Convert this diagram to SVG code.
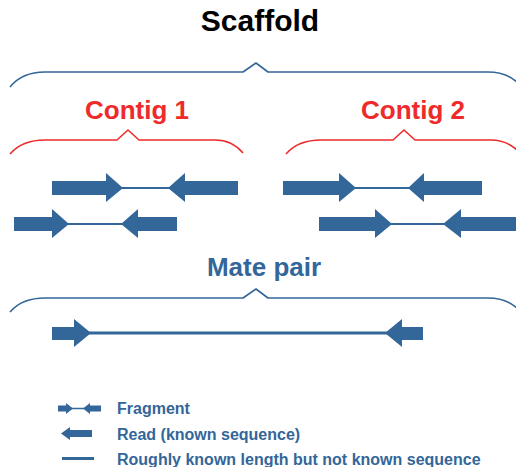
<svg xmlns="http://www.w3.org/2000/svg" width="516" height="467" viewBox="0 0 516 467">
<style>
.t{font-family:"Liberation Sans",Arial,sans-serif;font-weight:bold}
.brace{fill:none;stroke-width:1.6;stroke-linejoin:round}
.blue{stroke:#336699}
.red{stroke:#ee2a2a}
.rd{fill:#336699}
.ln{stroke:#336699;fill:none}
</style>
<rect width="516" height="467" fill="#fff"/>
<g id="scaffold">
<text class="t" x="260" y="31" font-size="30" text-anchor="middle" fill="#000">Scaffold</text>
<path class="brace blue" d="M10,87 Q22,72 45,72 L243,72 L256,63 L268,72 L488,72 Q508,72 520,85"/>
</g>
<g id="contig1">
<text class="t" x="137" y="119" font-size="26" text-anchor="middle" fill="#ee2a2a">Contig 1</text>
<path class="brace red" d="M10,154 Q22,140 45,140 L117,140 L128,130 L139,140 L215,140 Q232,140 243,153"/>
</g>
<g id="contig2">
<text class="t" x="413" y="119" font-size="26" text-anchor="middle" fill="#ee2a2a">Contig 2</text>
<path class="brace red" d="M286,154 Q298,140 321,140 L393,140 L404,130 L415,140 L491,140 Q508,140 520,153"/>
</g>
<g id="fragments">
<g id="frag1">
<line class="ln" x1="120" y1="188" x2="170" y2="188" stroke-width="2"/>
<polygon class="rd" points="52,181 106,181 106,173 123,188 106,202 106,195 52,195"/>
<polygon class="rd" points="238,181 185,181 185,173 168,188 185,202 185,195 238,195"/>
</g>
<g id="frag2">
<line class="ln" x1="353" y1="188" x2="410" y2="188" stroke-width="2"/>
<polygon class="rd" points="283,181 339,181 339,173 356,188 339,202 339,195 283,195"/>
<polygon class="rd" points="482,181 424,181 424,173 408,188 424,202 424,195 482,195"/>
</g>
<g id="frag3">
<line class="ln" x1="66" y1="224" x2="123" y2="224" stroke-width="2"/>
<polygon class="rd" points="14,217 52,217 52,209 69,224 52,238 52,231 14,231"/>
<polygon class="rd" points="177,217 138,217 138,209 121,224 138,238 138,231 177,231"/>
</g>
<g id="frag4">
<line class="ln" x1="389" y1="224" x2="445" y2="224" stroke-width="2"/>
<polygon class="rd" points="319,217 375,217 375,209 392,224 375,238 375,231 319,231"/>
<polygon class="rd" points="516,217 461,217 461,209 443,224 461,238 461,231 516,231"/>
</g>
</g>
<g id="matepair">
<text class="t" x="264" y="276" font-size="26" text-anchor="middle" fill="#336699">Mate pair</text>
<path class="brace blue" d="M10,312 Q22,298 45,298 L243,298 L256,289 L268,298 L488,298 Q508,298 520,311"/>
<line class="ln" x1="88" y1="333" x2="388" y2="333" stroke-width="3"/>
<polygon class="rd" points="52,327 74,327 74,319 91,333 74,347 74,340 52,340"/>
<polygon class="rd" points="423,327 402,327 402,319 385,333 402,347 402,340 423,340"/>
</g>
<g id="legend">
<g id="leg-fragment">
<line class="ln" x1="71" y1="408.5" x2="85" y2="408.5" stroke-width="1.5"/>
<polygon class="rd" points="58,405.5 66,405.5 66,403 73,408.5 66,414 66,411.5 58,411.5"/>
<polygon class="rd" points="101,405.5 90,405.5 90,403 83,408.5 90,414 90,411.5 101,411.5"/>
<text class="t" x="117" y="414" font-size="16" fill="#336699">Fragment</text>
</g>
<g id="leg-read">
<polygon class="rd" points="92,430 70,430 70,427 61,433.5 70,440 70,437 92,437"/>
<text class="t" x="117" y="440" font-size="16" fill="#336699">Read (known sequence)</text>
</g>
<g id="leg-line">
<line class="ln" x1="62" y1="458.5" x2="94" y2="458.5" stroke-width="3"/>
<text class="t" x="117" y="465" font-size="16" fill="#336699">Roughly known length but not known sequence</text>
</g>
</g>
</svg>
